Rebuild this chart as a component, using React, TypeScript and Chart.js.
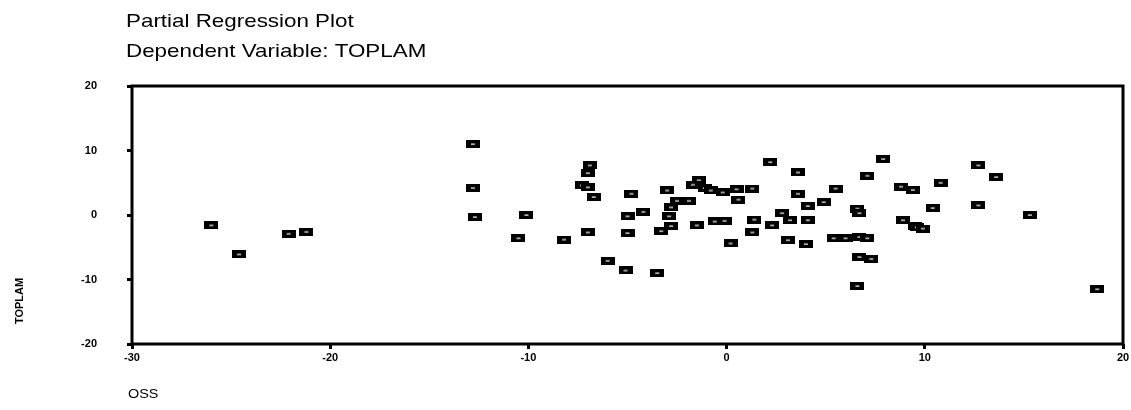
import React, { useEffect, useRef } from "react";
import { Chart, registerables } from "chart.js";

Chart.register(...registerables);

const TITLE = "Partial Regression Plot";
const SUBTITLE = "Dependent Variable: TOPLAM";
const Y_LABEL = "TOPLAM";
const X_LABEL = "OSS";
const X_TICKS = [-30, -20, -10, 0, 10, 20];
const Y_TICKS = [-20, -10, 0, 10, 20];

const OSS_VALUES = [
  -26.0, -24.6, -22.1, -21.2, -12.8, -12.8, -12.7, -10.1, -10.5, -8.2,
  -6.9, -7.0, -7.3, -7.0, -6.7, -7.0, -6.0, -5.1, -3.5, -4.8,
  -5.0, -4.2, -5.0, -3.0, -2.5, -1.9, -2.8, -2.9, -2.8, -3.3,
  -1.5, -1.4, -1.7, -1.1, -0.8, -0.2, -0.6, -0.1, 0.2, 0.5,
  1.3, 0.6, 2.2, 3.6, 3.6, 5.5, 4.9, 4.1, 2.8, 3.2,
  4.1, 1.4, 1.3, 2.3, 3.1, 4.0, 5.4, 6.0, 6.7, 7.1,
  6.6, 6.7, 7.1, 6.7, 7.3, 6.6, 7.9, 8.8, 9.4, 10.8,
  10.4, 8.9, 9.5, 9.6, 9.9, 12.7, 13.6, 12.7, 15.3, 18.7,
];

const TOPLAM_VALUES = [
  -1.6, -6.1, -2.9, -2.6, 11.0, 4.2, -0.3, 0.0, -3.6, -3.8,
  7.7, 6.5, 4.6, 4.3, 2.8, -2.7, -7.1, -8.6, -9.0, 3.3,
  -0.2, 0.5, -2.8, 3.8, 2.2, 2.2, 1.2, -0.2, -1.7, -2.5,
  -1.6, 5.4, 4.7, 4.2, 3.8, 3.5, -1.0, -0.9, -4.4, 4.0,
  4.1, 2.4, 8.2, 6.6, 3.3, 4.1, 2.0, 1.4, 0.3, -0.8,
  -0.8, -0.7, -2.7, -1.6, -3.9, -4.5, -3.6, -3.6, -3.4, -3.6,
  1.0, 0.3, 6.1, -6.5, -6.8, -11.0, 8.7, 4.4, 3.9, 5.0,
  1.1, -0.8, -1.7, -1.9, -2.1, 7.7, 5.9, 1.5, 0.0, -11.5,
];

const FONT = "'Liberation Sans', Arial, sans-serif";

export default function App() {
  const ref = useRef<HTMLCanvasElement>(null);

  useEffect(() => {
    if (!ref.current) return;

    const marker = document.createElement("canvas");
    marker.width = 14;
    marker.height = 8;
    const m = marker.getContext("2d")!;
    m.fillStyle = "#000";
    m.fillRect(0, 0, 14, 8);
    m.fillStyle = "#fff";
    m.fillRect(5, 3.5, 4, 1.2);

    const drawText = (
      ctx: CanvasRenderingContext2D,
      s: string,
      x: number,
      y: number,
      font: string,
      sx: number,
      rot = 0,
      align: CanvasTextAlign = "left"
    ) => {
      ctx.save();
      ctx.translate(x, y);
      if (rot) ctx.rotate(rot);
      ctx.scale(sx, 1);
      ctx.font = font;
      ctx.fillStyle = "#000";
      ctx.textAlign = align;
      ctx.textBaseline = "alphabetic";
      ctx.fillText(s, 0, 0);
      ctx.restore();
    };

    const framePlugin = {
      id: "frameAndLabels",
      afterDraw(chart: any) {
        const { ctx, chartArea: a } = chart;
        ctx.save();
        ctx.strokeStyle = "#000";
        ctx.lineWidth = 3;
        ctx.strokeRect(a.left, a.top, a.right - a.left, a.bottom - a.top);
        ctx.restore();
        drawText(ctx, TITLE, 126, 27, `18.5px ${FONT}`, 1.21);
        drawText(ctx, SUBTITLE, 126, 57, `18.5px ${FONT}`, 1.21);
        drawText(ctx, X_LABEL, 128, 398, `12px ${FONT}`, 1.2);
        drawText(ctx, Y_LABEL, 23, 301, `bold 11px ${FONT}`, 1.0, -Math.PI / 2, "center");
      },
    };

    const chart = new Chart(ref.current, {
      type: "scatter",
      data: {
        datasets: [
          {
            data: OSS_VALUES.map((x, i) => ({ x, y: TOPLAM_VALUES[i] })),
            pointStyle: marker as any,
            pointRadius: 7,
            pointHoverRadius: 7,
            backgroundColor: "#000",
            borderColor: "#000",
          },
        ],
      },
      options: {
        animation: false,
        responsive: false,
        devicePixelRatio: 1,
        layout: { padding: { top: 86, right: 3, left: 0, bottom: 0 } },
        plugins: {
          legend: { display: false },
          tooltip: { enabled: false },
          title: { display: false },
        },
        scales: {
          x: {
            type: "linear",
            min: -30,
            max: 20,
            afterBuildTicks: (s: any) => {
              s.ticks = X_TICKS.map((v) => ({ value: v }));
            },
            afterFit: (s: any) => {
              s.height = 66;
              s.paddingLeft = 0;
              s.paddingRight = 0;
            },
            grid: {
              display: true,
              drawOnChartArea: false,
              drawTicks: true,
              tickLength: 5,
              lineWidth: 3,
              color: "#000",
            },
            border: { display: false },
            ticks: {
              autoSkip: false,
              maxRotation: 0,
              padding: 2,
              color: "#000",
              font: { family: FONT, size: 11, weight: "bold" },
            },
          },
          y: {
            type: "linear",
            min: -20,
            max: 20,
            afterBuildTicks: (s: any) => {
              s.ticks = Y_TICKS.map((v) => ({ value: v }));
            },
            afterFit: (s: any) => {
              s.width = 132;
              s.paddingTop = 0;
              s.paddingBottom = 0;
            },
            grid: {
              display: true,
              drawOnChartArea: false,
              drawTicks: true,
              tickLength: 5,
              lineWidth: 3,
              color: "#000",
            },
            border: { display: false },
            ticks: {
              autoSkip: false,
              padding: 30,
              color: "#000",
              font: { family: FONT, size: 11, weight: "bold" },
            },
          },
        },
      },
      plugins: [framePlugin],
    });

    return () => chart.destroy();
  }, []);

  return (
    <div style={{ position: "absolute", left: 0, top: 0, width: 1131, height: 410, background: "#fff" }}>
      <canvas ref={ref} width={1131} height={410} style={{ display: "block" }} />
    </div>
  );
}
